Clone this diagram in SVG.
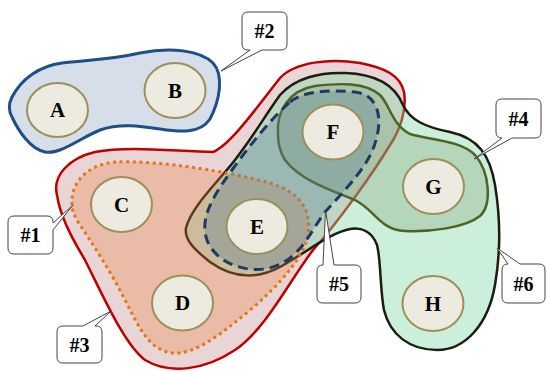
<svg xmlns="http://www.w3.org/2000/svg" width="546" height="371" viewBox="0 0 546 371">
<style>
.node ellipse{fill:#edeae0;stroke:#9d8f5c;stroke-width:2}
.lbl{font-family:"Liberation Serif","Times New Roman",serif;font-weight:bold;font-size:21px;text-anchor:middle;fill:#000}
.callout path{fill:#fff;stroke:#444;stroke-width:1}
.ctext{font-size:20px}
#set2 path{fill:#d6dfe9;stroke:#1f4e89;stroke-width:3}
#set3 path{fill:#e9d5d5;stroke:#c00000;stroke-width:2.5}
#set6 path{fill:rgb(127,216,165);fill-opacity:.4;stroke:#1c1c10;stroke-width:2.5}
#set4 path{fill:rgb(110,140,90);fill-opacity:.25;stroke:#4f6228;stroke-width:2.5}
#set1 path{fill:rgb(240,130,60);fill-opacity:.3;stroke:#e87515;stroke-width:3;stroke-dasharray:3 3.6}
#set5 path{fill:rgb(90,130,150);fill-opacity:.35;stroke:#1f3864;stroke-width:3;stroke-dasharray:10 6}
</style>
<g id="sets">
<g id="set2"><path d="M12,97 C22,78 40,66 62,63 C85,60 110,60 140,53 C170,47 200,50 213,63 C224,75 220,100 210,119 C200,134 180,132 160,129 C140,126 120,123 100,130 C80,138 60,155 45,152 C30,149 18,130 12,117 C8,110 9,103 12,97 Z"/></g>
<g id="set3"><path d="M57,195 C52,175 70,158 95,152 C130,145 180,152 213,152 C230,145 255,110 280,78 C295,62 330,58 360,63 C385,68 400,75 404,92 C407,110 400,130 390,145 C375,170 340,220 313,250 C290,280 265,330 235,350 C205,370 170,375 145,360 C125,345 105,300 85,260 C70,235 60,215 57,195 Z"/></g>
<g id="set6"><path d="M186,228 C190,212 205,195 225,172 C245,150 262,120 280,95 C295,78 320,72 345,73 C375,74 395,85 403,105 C410,120 425,127 450,132 C478,138 490,155 495,185 C500,215 501,250 495,285 C488,325 465,350 437,350 C410,350 390,335 384,310 C380,290 381,260 377,245 C372,232 362,227 350,229 C330,233 310,250 280,267 C260,278 235,280 210,262 C195,250 184,240 186,228 Z"/></g>
<g id="set4"><path d="M278,135 C276,110 290,90 315,86 C340,83 365,82 380,95 C390,105 392,125 410,134 C430,140 460,140 475,155 C490,172 492,205 480,216 C465,228 430,232 405,231 C380,230 375,210 355,200 C330,190 300,180 285,160 C280,152 278,143 278,135 Z"/></g>
<g id="set1"><path d="M72,205 C70,185 85,165 115,162 C160,160 230,172 270,183 C300,192 312,210 308,235 C305,255 280,285 250,310 C220,335 195,355 172,353 C150,350 140,330 125,300 C110,270 90,240 78,222 C74,215 72,210 72,205 Z"/></g>
<g id="set5"><path d="M290,102 C305,90 330,90 355,92 C380,95 382,120 376,140 C370,165 345,190 325,212 C310,232 300,260 270,268 C245,274 215,262 207,240 C200,220 210,200 232,170 C250,145 270,120 290,102 Z"/></g>
</g>
<g id="nodes">
<g id="A" class="node"><ellipse cx="57.5" cy="110" rx="30.5" ry="27"/><text class="lbl" x="57.5" y="117">A</text></g>
<g id="B" class="node"><ellipse cx="175" cy="90.5" rx="30.5" ry="27.5"/><text class="lbl" x="175" y="97.5">B</text></g>
<g id="C" class="node"><ellipse cx="121.5" cy="204.5" rx="30.5" ry="27.5"/><text class="lbl" x="121.5" y="211.5">C</text></g>
<g id="D" class="node"><ellipse cx="182.5" cy="303" rx="30.5" ry="27.5"/><text class="lbl" x="182.5" y="310">D</text></g>
<g id="E" class="node"><ellipse cx="257" cy="226.5" rx="30.5" ry="27.5"/><text class="lbl" x="257" y="233.5">E</text></g>
<g id="F" class="node"><ellipse cx="333" cy="132" rx="30.5" ry="27.5"/><text class="lbl" x="333" y="139">F</text></g>
<g id="G" class="node"><ellipse cx="433.5" cy="186.5" rx="30.5" ry="27.5"/><text class="lbl" x="433.5" y="193.5">G</text></g>
<g id="H" class="node"><ellipse cx="433" cy="303.5" rx="30.5" ry="27.5"/><text class="lbl" x="433" y="310.5">H</text></g>
</g>
<g id="connectors">
<g id="c1" class="callout"><path d="M14,216 H47 Q53,216 53,222 V223 L73,205 L53,230 V248 Q53,254 47,254 H14 Q8,254 8,248 V222 Q8,216 14,216 Z"/><text class="lbl ctext" x="30.5" y="242">#1</text></g>
<g id="c2" class="callout"><path d="M248,12 H281 Q287,12 287,18 V44 Q287,50 281,50 H262 L221,71 L250,50 H248 Q242,50 242,44 V18 Q242,12 248,12 Z"/><text class="lbl ctext" x="264.5" y="38">#2</text></g>
<g id="c3" class="callout"><path d="M63,326 H83 L111,311 L95,326 H96 Q102,326 102,332 V357 Q102,363 96,363 H63 Q57,363 57,357 V332 Q57,326 63,326 Z"/><text class="lbl ctext" x="79.5" y="351.5">#3</text></g>
<g id="c4" class="callout"><path d="M502,99 H535 Q541,99 541,105 V132 Q541,138 535,138 H512 L474,159 L502,138 Q496,138 496,132 V105 Q496,99 502,99 Z"/><text class="lbl ctext" x="518.5" y="125.5">#4</text></g>
<g id="c5" class="callout"><path d="M323,265 L325.5,210 L334,265 H355 Q361,265 361,271 V297 Q361,303 355,303 H323 Q317,303 317,297 V271 Q317,265 323,265 Z"/><text class="lbl ctext" x="339" y="291">#5</text></g>
<g id="c6" class="callout"><path d="M508,264 L497,248 L520,264 H539 Q545,264 545,270 V297 Q545,303 539,303 H508 Q502,303 502,297 V270 Q502,264 508,264 Z"/><text class="lbl ctext" x="523.5" y="290.5">#6</text></g>
</g>
</svg>
